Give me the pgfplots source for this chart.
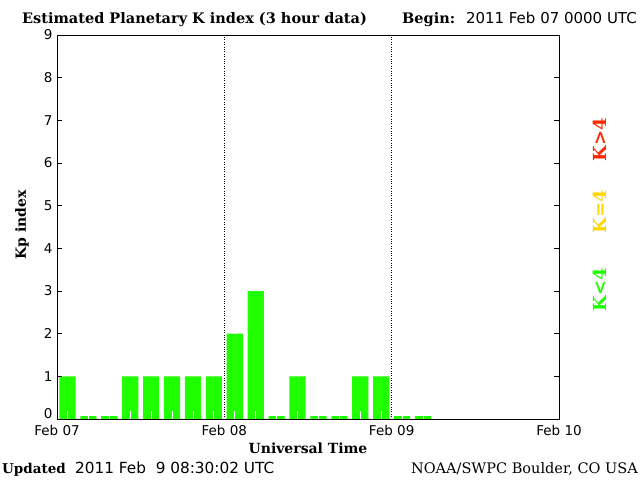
\documentclass[border=0pt]{standalone}
\usepackage{fontspec}
\setmainfont{DejaVu Serif}
\setsansfont{DejaVu Sans}
\usepackage{pgfplots}
\usepackage{pgfplotstable}
\pgfplotsset{compat=1.18}

\definecolor{kgreen}{RGB}{32,255,0}
\definecolor{kyellow}{RGB}{255,214,0}
\definecolor{kred}{RGB}{255,40,0}

% slot centre (3 h steps since Feb 07 00 UT), Kp as drawn
\pgfplotstableread{
slot kp
0.5  1
1.5  0.07
2.5  0.07
3.5  1
4.5  1
5.5  1
6.5  1
7.5  1
8.5  2
9.5  3
10.5 0.07
11.5 1
12.5 0.07
13.5 0.07
14.5 1
15.5 1
16.5 0.07
17.5 0.07
}\kpdata

\begin{document}
\begin{tikzpicture}
\begin{axis}[
  scale only axis,
  width=502pt, height=384pt,
  xmin=0, xmax=24, ymin=0, ymax=9,
  axis on top, clip=false,
  xtick={0,8,16,24},
  xticklabels={Feb 07,Feb 08,Feb 09,Feb 10},
  minor xtick={0.5,1.5,...,23.5},
  ytick={1,2,...,9},
  extra y ticks={0},
  extra y tick style={yticklabel style={yshift=5pt}},
  xtick pos=bottom, ytick pos=both, tick align=inside,
  major tick length=5pt, minor tick length=8pt,
  major x tick style={draw=none},
  minor x tick style={white, line width=0.8pt},
  y tick style={black, line width=0.8pt},
  axis line style={line width=0.8pt},
  /pgf/number format/assume math mode=true,
  ticklabel style={font=\sffamily\fontsize{13.5}{13.5}\selectfont},
  xticklabel style={yshift=-3pt},
  yticklabel style={xshift=-1pt},
]
\addplot[ybar, bar width=0.77, fill=kgreen, draw=none] table[x=slot, y=kp] {\kpdata};
\addplot[black, dotted, forget plot] coordinates {(8,0) (8,9)};
\addplot[black, dotted, forget plot] coordinates {(16,0) (16,9)};

\coordinate (O) at (rel axis cs:0,0);
\end{axis}

% page frame 640 x 480
\path ([shift={(-57pt,-61pt)}]O) rectangle ([shift={(583pt,419pt)}]O);

\node[anchor=base west, font=\bfseries\fontsize{14.5}{14.5}\selectfont, inner sep=0pt]
  at ([shift={(-35pt,395pt)}]O) {Estimated Planetary K index (3 hour data)};
\node[anchor=base west, font=\bfseries\fontsize{14.5}{14.5}\selectfont, inner sep=0pt]
  at ([shift={(345pt,395pt)}]O) {Begin:};
\node[anchor=base east, font=\sffamily\fontsize{15}{15}\selectfont, inner sep=0pt]
  at ([shift={(580pt,395pt)}]O) {2011 Feb 07 0000 UTC};

\node[rotate=90, font=\bfseries\fontsize{14}{14}\selectfont, inner sep=0pt]
  at ([shift={(-35pt,194pt)}]O) {Kp index};
\node[font=\bfseries\fontsize{14}{14}\selectfont, inner sep=0pt]
  at ([shift={(251pt,-29pt)}]O) {Universal Time};

\node[anchor=base west, font=\bfseries\fontsize{13.5}{13.5}\selectfont, inner sep=0pt]
  at ([shift={(-55pt,-54pt)}]O) {Updated};
\node[anchor=base west, font=\sffamily\fontsize{15.3}{15.3}\selectfont, inner sep=0pt]
  at ([shift={(18pt,-54pt)}]O) {2011 Feb\ \ 9 08:30:02 UTC};
\node[anchor=base east, font=\fontsize{14.5}{14.5}\selectfont, inner sep=0pt]
  at ([shift={(581pt,-54pt)}]O) {NOAA/SWPC Boulder, CO USA};

\node[rotate=90, text=kgreen, font=\bfseries\fontsize{18}{18}\selectfont, inner sep=0pt]
  at ([shift={(543pt,129pt)}]O) {K\textless4};
\node[rotate=90, text=kyellow, font=\bfseries\fontsize{18}{18}\selectfont, inner sep=0pt]
  at ([shift={(543pt,207pt)}]O) {K=4};
\node[rotate=90, text=kred, font=\bfseries\fontsize{18}{18}\selectfont, inner sep=0pt]
  at ([shift={(543pt,279pt)}]O) {K\textgreater4};
\end{tikzpicture}
\end{document}
